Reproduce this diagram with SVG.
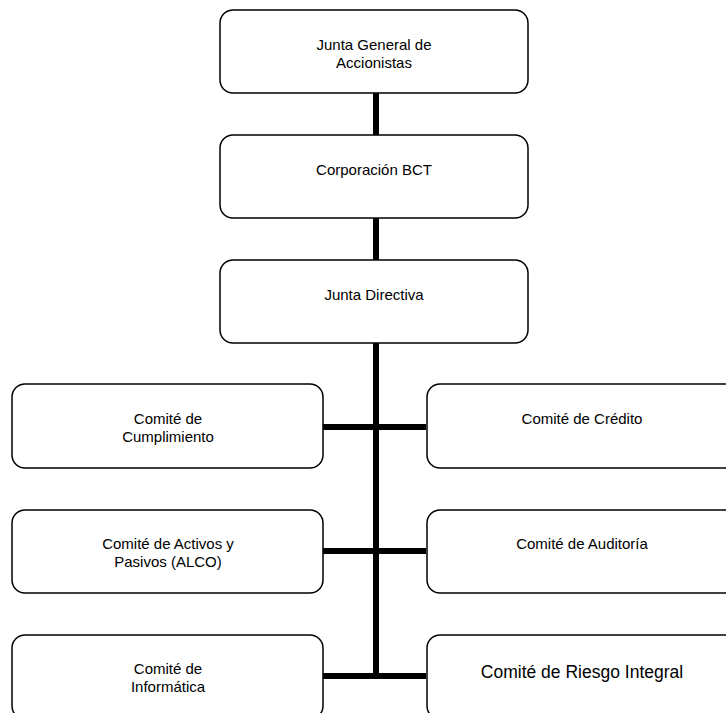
<svg xmlns="http://www.w3.org/2000/svg" width="726" height="713" viewBox="0 0 726 713">
<style>
.box{fill:#fff;stroke:#000;stroke-width:1.5}
.t{font-family:"Liberation Sans",Arial,sans-serif;font-size:15px;fill:#000;text-anchor:middle}
.big{font-size:17.5px}
.c{stroke:#000;stroke-width:6;fill:none}
</style>
<rect width="726" height="713" fill="#fff"/>
<g id="connectors">
<line class="c" x1="376" y1="93" x2="376" y2="135"/>
<line class="c" x1="376" y1="218" x2="376" y2="260"/>
<line class="c" x1="376" y1="343" x2="376" y2="679"/>
<line class="c" x1="323" y1="427" x2="426" y2="427"/>
<line class="c" x1="323" y1="551" x2="426" y2="551"/>
<line class="c" x1="323" y1="676" x2="426" y2="676"/>
</g>
<g id="n1"><rect class="box" x="220" y="10" width="308" height="83" rx="13"/><text class="t" x="374" y="50">Junta General de</text><text class="t" x="374" y="68">Accionistas</text></g>
<g id="n2"><rect class="box" x="220" y="135" width="308" height="83" rx="13"/><text class="t" x="374" y="175">Corporación BCT</text></g>
<g id="n3"><rect class="box" x="220" y="260" width="308" height="83" rx="13"/><text class="t" x="374" y="300">Junta Directiva</text></g>
<g id="n4"><rect class="box" x="12" y="384" width="311" height="84" rx="13"/><text class="t" x="168" y="424">Comité de</text><text class="t" x="168" y="442">Cumplimiento</text></g>
<g id="n5"><rect class="box" x="427" y="384" width="311" height="84" rx="13"/><text class="t" x="582" y="424">Comité de Crédito</text></g>
<g id="n6"><rect class="box" x="12" y="510" width="311" height="83" rx="13"/><text class="t" x="168" y="549">Comité de Activos y</text><text class="t" x="168" y="567">Pasivos (ALCO)</text></g>
<g id="n7"><rect class="box" x="427" y="510" width="311" height="83" rx="13"/><text class="t" x="582" y="549">Comité de Auditoría</text></g>
<g id="n8"><rect class="box" x="12" y="635" width="311" height="84" rx="13"/><text class="t" x="168" y="674">Comité de</text><text class="t" x="168" y="692">Informática</text></g>
<g id="n9"><rect class="box" x="427" y="635" width="311" height="84" rx="13"/><text class="t big" x="582" y="678">Comité de Riesgo Integral</text></g>
</svg>
